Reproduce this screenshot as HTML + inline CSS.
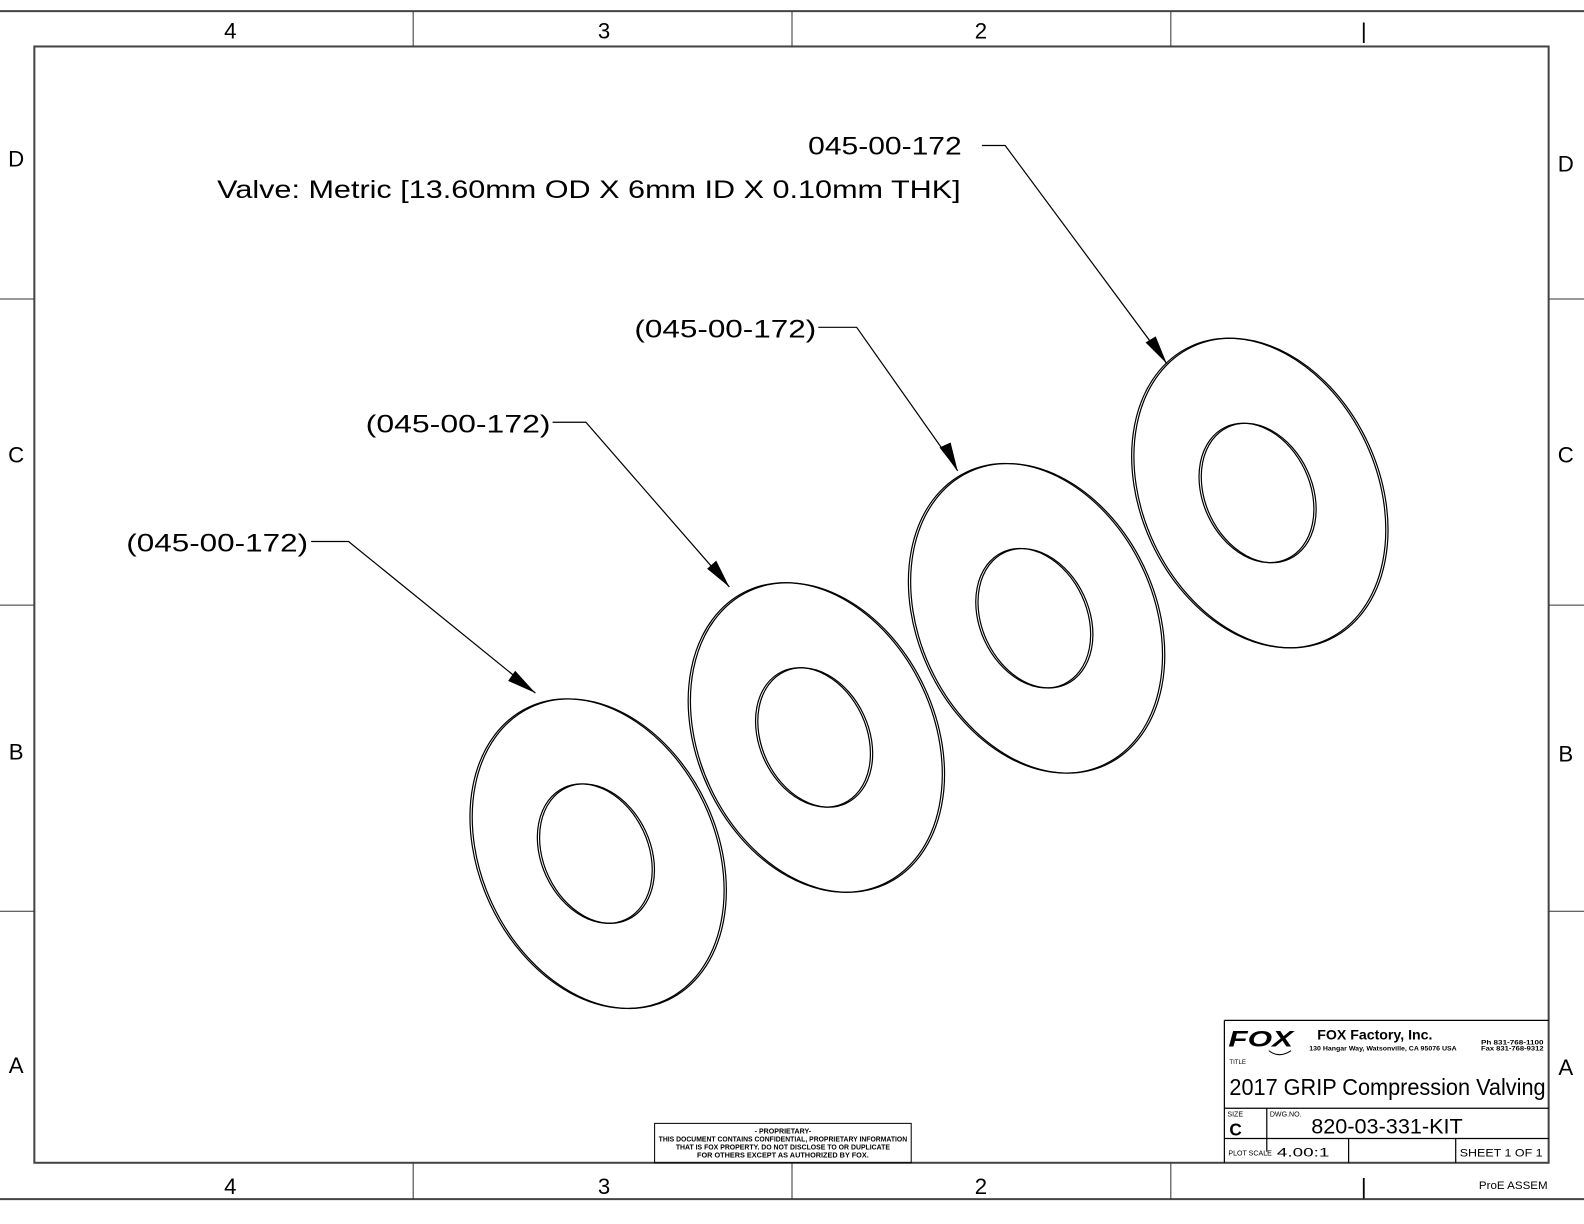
<!DOCTYPE html>
<html><head><meta charset="utf-8"><style>
html,body{margin:0;padding:0;background:#fff;}
svg{display:block;}
text{font-family:"Liberation Sans Narrow","Liberation Sans",sans-serif;fill:#000;}
</style></head><body>
<svg width="1584" height="1224" viewBox="0 0 1568 1211.6" preserveAspectRatio="none" xmlns="http://www.w3.org/2000/svg">
<g stroke="#444" stroke-width="2" fill="none">
<line x1="0" y1="11" x2="1584" y2="11"/>
<line x1="0" y1="1187" x2="1584" y2="1187"/>
<rect x="34" y="46" width="1499" height="1105"/>
</g>
<g stroke="#333" stroke-width="1" fill="none">
<line x1="409" y1="11" x2="409" y2="46"/><line x1="784" y1="11" x2="784" y2="46"/><line x1="1159" y1="11" x2="1159" y2="46"/>
<line x1="409" y1="1151" x2="409" y2="1187"/><line x1="784" y1="1151" x2="784" y2="1187"/><line x1="1159" y1="1151" x2="1159" y2="1187"/>
<line x1="0" y1="296" x2="34" y2="296"/><line x1="0" y1="599" x2="34" y2="599"/><line x1="0" y1="902" x2="34" y2="902"/>
<line x1="1533" y1="296" x2="1584" y2="296"/><line x1="1533" y1="599" x2="1584" y2="599"/><line x1="1533" y1="902" x2="1584" y2="902"/>
</g>
<g font-size="22" text-anchor="middle" style="font-weight:300">
<text x="228" y="38">4</text><text x="598" y="38">3</text><text x="971" y="38">2</text><text x="1350" y="38">|</text>
<text x="228" y="1182">4</text><text x="598" y="1182">3</text><text x="971" y="1182">2</text><text x="1350" y="1182">|</text>
<text x="16" y="165">D</text><text x="16" y="458">C</text><text x="16" y="752">B</text><text x="16" y="1062">A</text>
<text x="1550" y="170">D</text><text x="1550" y="458">C</text><text x="1550" y="754">B</text><text x="1550" y="1064">A</text>
</g>
<g font-size="25">
<text x="800" y="153" textLength="152" lengthAdjust="spacingAndGlyphs">045-00-172</text>
<text x="215" y="196" textLength="736" lengthAdjust="spacingAndGlyphs">Valve: Metric [13.60mm OD X 6mm ID X 0.10mm THK]</text>
<text x="628" y="334" textLength="180" lengthAdjust="spacingAndGlyphs">(045-00-172)</text>
<text x="362" y="428" textLength="183" lengthAdjust="spacingAndGlyphs">(045-00-172)</text>
<text x="125" y="546" textLength="180" lengthAdjust="spacingAndGlyphs">(045-00-172)</text>
</g>
<g stroke="#000" stroke-width="1.2" fill="none">
<polyline points="972,144 995,144 1155,360"/>
<polyline points="810,324 848,324 948,466"/>
<polyline points="547,418 580,418 722,581"/>
<polyline points="308,536 345,536 530,686"/>
</g>
<g fill="#000">
<polygon points="1155,360 1134,339 1144,333"/>
<polygon points="948,466 930,443 941,438"/>
<polygon points="722,581 700,563 709,555"/>
<polygon points="530,686 503,674 510,664"/>
</g>
<g stroke="#000" stroke-width="1.2" fill="none">
<g transform="translate(591,845) rotate(65)"><ellipse rx="160" ry="117"/><ellipse rx="160" ry="117" transform="translate(1,-2)"/><ellipse rx="72" ry="53"/><ellipse rx="72" ry="53" transform="translate(-1,2)"/></g>
<g transform="translate(807,730) rotate(65)"><ellipse rx="160" ry="117"/><ellipse rx="160" ry="117" transform="translate(1,-2)"/><ellipse rx="72" ry="53"/><ellipse rx="72" ry="53" transform="translate(-1,2)"/></g>
<g transform="translate(1025,612) rotate(65)"><ellipse rx="160" ry="117"/><ellipse rx="160" ry="117" transform="translate(1,-2)"/><ellipse rx="72" ry="53"/><ellipse rx="72" ry="53" transform="translate(-1,2)"/></g>
<g transform="translate(1246,488) rotate(65)"><ellipse rx="160" ry="117"/><ellipse rx="160" ry="117" transform="translate(1,-2)"/><ellipse rx="72" ry="53"/><ellipse rx="72" ry="53" transform="translate(-1,2)"/></g>
</g>
<rect x="648" y="1112" width="254" height="39" fill="none" stroke="#000" stroke-width="1"/>
<g font-size="7" text-anchor="middle" font-weight="bold">
<text x="775" y="1122">- PROPRIETARY-</text>
<text x="775" y="1130" textLength="246" lengthAdjust="spacingAndGlyphs">THIS DOCUMENT CONTAINS CONFIDENTIAL, PROPRIETARY INFORMATION</text>
<text x="775" y="1138" textLength="212" lengthAdjust="spacingAndGlyphs">THAT IS FOX PROPERTY.  DO NOT DISCLOSE TO OR DUPLICATE</text>
<text x="775" y="1146" textLength="170" lengthAdjust="spacingAndGlyphs">FOR OTHERS EXCEPT AS AUTHORIZED BY FOX.</text>
</g>
<g stroke="#000" stroke-width="1.2" fill="none">
<line x1="1212" y1="1010" x2="1533" y2="1010"/>
<line x1="1212" y1="1010" x2="1212" y2="1151"/>
<line x1="1212" y1="1097" x2="1533" y2="1097"/>
<line x1="1212" y1="1127" x2="1533" y2="1127"/>
<line x1="1254" y1="1097" x2="1254" y2="1140"/>
<line x1="1335" y1="1127" x2="1335" y2="1151"/>
<line x1="1441" y1="1127" x2="1441" y2="1151"/>
</g>
<text x="1216" y="1036" font-size="22" font-weight="bold" font-style="italic" textLength="64" lengthAdjust="spacingAndGlyphs">FOX</text>
<path d="M1256 1040 q10 8 22 0" stroke="#000" fill="none"/>
<text x="1304" y="1029" font-size="14" font-weight="bold" style="font-family:'Liberation Sans',sans-serif">FOX Factory, Inc.</text>
<text x="1296" y="1040" font-size="6" font-weight="bold" textLength="146" lengthAdjust="spacingAndGlyphs">130 Hangar Way, Watsonville, CA 95076 USA</text>
<text x="1466" y="1034" font-size="6" font-weight="bold" textLength="62" lengthAdjust="spacingAndGlyphs">Ph 831-768-1100</text>
<text x="1466" y="1040" font-size="6" font-weight="bold" textLength="62" lengthAdjust="spacingAndGlyphs">Fax 831-768-9312</text>
<text x="1217" y="1053" font-size="6">TITLE</text>
<text x="1217" y="1084" font-size="23" style="font-family:'Liberation Sans',sans-serif" textLength="313" lengthAdjust="spacingAndGlyphs">2017 GRIP Compression Valving</text>
<text x="1215" y="1105" font-size="7">SIZE</text>
<text x="1257" y="1105" font-size="7">DWG.NO.</text>
<text x="1217" y="1124" font-size="17" font-weight="bold" style="font-family:'Liberation Sans',sans-serif">C</text>
<text x="1298" y="1122" font-size="21" style="font-family:'Liberation Sans',sans-serif" textLength="150" lengthAdjust="spacingAndGlyphs">820-03-331-KIT</text>
<text x="1216" y="1144" font-size="7">PLOT SCALE</text>
<text x="1264" y="1145" font-size="12" textLength="52" lengthAdjust="spacingAndGlyphs">4.00:1</text>
<text x="1445" y="1145" font-size="11" textLength="82" lengthAdjust="spacingAndGlyphs">SHEET 1 OF 1</text>
<text x="1464" y="1177" font-size="11" textLength="68" lengthAdjust="spacingAndGlyphs">ProE ASSEM</text>
</svg>
</body></html>
